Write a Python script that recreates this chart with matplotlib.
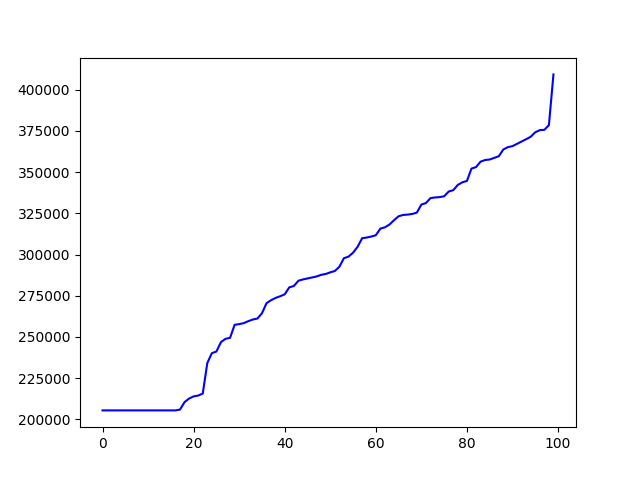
import matplotlib
matplotlib.use("Agg")
import matplotlib.pyplot as plt
import numpy as np

values = [205500] * 17 + [
    206000,
    210500, 212700, 214000, 214500, 215700, 234200, 240200, 241200, 246900, 248900,
    249500, 257400, 257800, 258400, 259600, 260600, 261200, 264400, 270500, 272300,
    273700, 274700, 275900, 280100, 280900, 284100, 284900, 285500, 286100, 286700,
    287700, 288200, 289200, 290000, 292600, 297800, 298700, 301100, 304700, 309900,
    310300, 310900, 311700, 315700, 316500, 318200, 320800, 323200, 324000, 324200,
    324600, 325400, 330300, 331200, 334200, 334600, 334800, 335300, 338200, 339000,
    342200, 343800, 344600, 352100, 353000, 356300, 357300, 357600, 358600, 359600,
    363700, 365100, 365700, 367100, 368500, 369900, 371400, 374100, 375400, 375600,
    378400, 409200,
]
x = np.arange(len(values))

fig, ax = plt.subplots(figsize=(6.4, 4.8), dpi=100)
ax.plot(x, values, color="blue")
fig.savefig("out.png")
